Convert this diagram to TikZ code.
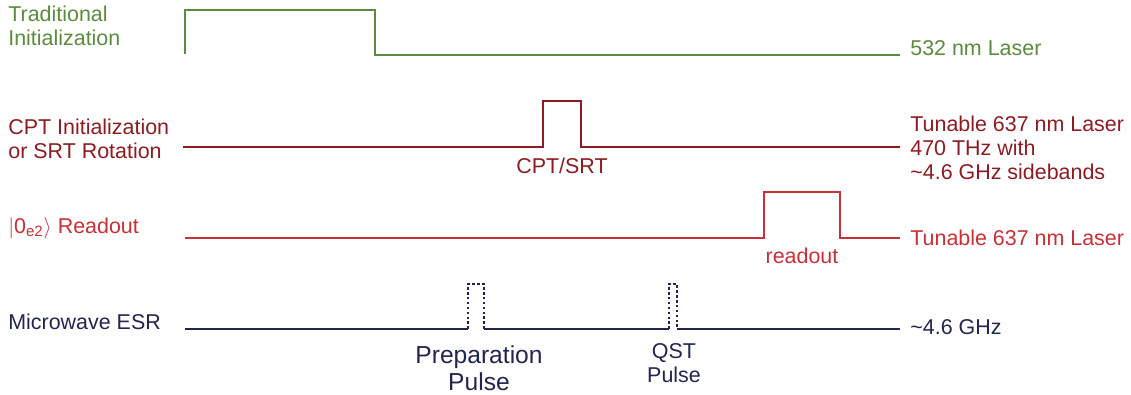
\documentclass[tikz,border=0pt]{standalone}
\usepackage{fontspec}
\setmainfont{Liberation Sans}
\definecolor{laserGreen}{RGB}{92,138,62}
\definecolor{cptRed}{RGB}{138,28,34}
\definecolor{readRed}{RGB}{200,48,56}
\definecolor{esrBlue}{RGB}{34,38,78}
\tikzset{
  trace/.style={line width=1.6pt},
  pulsedot/.style={line width=1.5pt, dash pattern=on 1.5pt off 1.3pt},
  lbl/.style={font=\fontsize{12.2}{13.6}\selectfont, inner sep=0pt, align=left},
}
\begin{document}
\begin{tikzpicture}[x=0.02cm, y=-0.02cm]
    \useasboundingbox (0,0) rectangle (1131,395);

    % Traditional initialization, green laser
    \node[lbl, laserGreen, anchor=west] (tradL) at (8,26) {Traditional\\Initialization};
    \node[lbl, laserGreen, anchor=west] (tradR) at (910,48) {532 nm Laser};
    \draw[trace, laserGreen] (185,54) -- (185,10) -- (375,10) -- (375,55) -- (900,55);

    % CPT / SRT line
    \node[lbl, cptRed, anchor=west] (cptL) at (8,139) {CPT Initialization\\or SRT Rotation};
    \node[lbl, cptRed, anchor=west] (cptR) at (910,148) {Tunable 637 nm Laser\\470 THz with\\\textasciitilde4.6 GHz sidebands};
    \draw[trace, cptRed] (183,147) -- (543,147) -- (543,101) -- (581,101) -- (581,147) -- (900,147);
    \node[lbl, cptRed] (cptP) at (562,166) {CPT/SRT};

    % Readout line
    \node[lbl, readRed, anchor=west] (readL) at (8,228) {$|$0\textsubscript{e2}$\rangle$ Readout};
    \node[lbl, readRed, anchor=west] (readR) at (910,238) {Tunable 637 nm Laser};
    \draw[trace, readRed] (185,238) -- (764,238) -- (764,192) -- (840,192) -- (840,238) -- (900,238);
    \node[lbl, readRed] (readP) at (802,256) {readout};

    % Microwave ESR line
    \node[lbl, esrBlue, anchor=west] (esrL) at (8,322) {Microwave ESR};
    \node[lbl, esrBlue, anchor=west] (esrR) at (910,327) {\textasciitilde4.6 GHz};
    \draw[trace, esrBlue] (185,329) -- (468,329);
    \draw[pulsedot, esrBlue] (468,329) -- (468,284) -- (484,284) -- (484,329);
    \draw[trace, esrBlue] (484,329) -- (669,329);
    \draw[pulsedot, esrBlue] (669,329) -- (669,284) -- (677,284) -- (677,329);
    \draw[trace, esrBlue] (677,329) -- (900,329);
    \node[lbl, esrBlue, align=center, font=\fontsize{14}{15.4}\selectfont] (prepP) at (479,368) {Preparation\\Pulse};
    \node[lbl, esrBlue, align=center] (qstP) at (674,363) {QST\\Pulse};

\end{tikzpicture}
\end{document}
